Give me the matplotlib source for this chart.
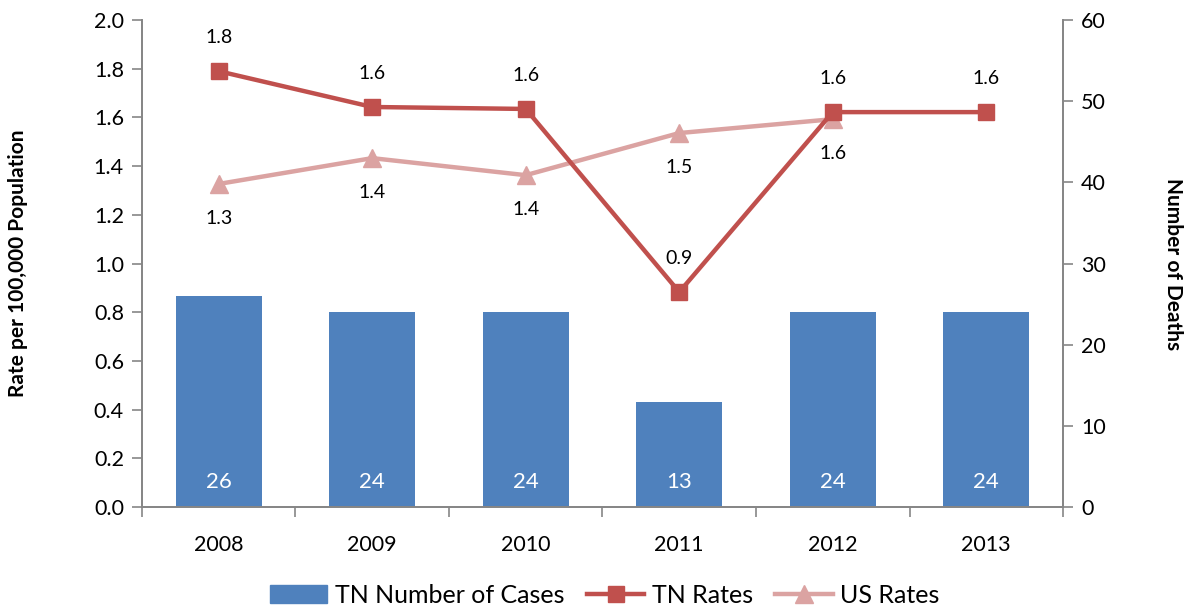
import matplotlib
matplotlib.use("Agg")
import matplotlib.pyplot as plt
import numpy as np

years = ["2008", "2009", "2010", "2011", "2012", "2013"]
tn_cases = [26, 24, 24, 13, 24, 24]
tn_rates = [1.79, 1.643, 1.635, 0.883, 1.622, 1.622]
us_rates = [1.327, 1.433, 1.363, 1.536, 1.593]

plt.rcParams['font.family'] = ['Lato', 'DejaVu Sans']

BAR_C = "#4F81BD"
TN_C = "#C0504D"
US_C = "#DBA3A2"
AX_C = "#868686"
FS = 15.5

fig = plt.figure(figsize=(11.86, 6.08), dpi=100)
ax = fig.add_axes([0.1197, 0.166, 0.7766, 0.801])
ax2 = ax.twinx()

x = np.arange(len(years))
ax2.bar(x, tn_cases, width=0.56, color=BAR_C, zorder=1, label="TN Number of Cases")
for xi, v in zip(x, tn_cases):
    ax2.text(xi, 1.9, str(v), ha="center", va="bottom", color="white", fontsize=16)
ax2.set_ylim(0, 60)
ax2.set_yticks(np.arange(0, 61, 10))

ax.set_zorder(ax2.get_zorder() + 1)
ax.patch.set_visible(False)
ln1, = ax.plot(x, tn_rates, color=TN_C, lw=3.2, marker="s", markersize=12, label="TN Rates", zorder=4)
ln2, = ax.plot(x[:len(us_rates)], us_rates, color=US_C, lw=3.2, marker="^", markersize=13, label="US Rates", zorder=3)
for xi, v in zip(x, tn_rates):
    ax.annotate(f"{v:.1f}", (xi, v), xytext=(0, 24), textcoords="offset points",
                ha="center", va="center", fontsize=14, color="black")
for xi, v in zip(x, us_rates):
    ax.annotate(f"{v:.1f}", (xi, v), xytext=(0, -25), textcoords="offset points",
                ha="center", va="center", fontsize=14, color="black")

ax.set_ylim(0, 2.0)
ax.set_yticks(np.arange(0, 2.01, 0.2))
ax.set_yticklabels([f"{t:.1f}" for t in np.arange(0, 2.01, 0.2)])
ax.set_xlim(-0.5, len(years) - 0.5)
ax.set_xticks(x)
ax.set_xticklabels(years)
ax.set_xticks(np.arange(-0.5, len(years)), minor=True)
ax.tick_params(axis="x", which="major", length=0, pad=20, labelsize=FS)
ax.tick_params(axis="x", which="minor", length=7, color=AX_C, width=1.2)
ax.tick_params(axis="y", length=7, color=AX_C, width=1.2, labelsize=FS, pad=6)
ax2.tick_params(axis="y", length=7, color=AX_C, width=1.2, labelsize=FS, pad=6)

for a in (ax, ax2):
    a.spines["top"].set_visible(False)
    for s in ("left", "right", "bottom"):
        a.spines[s].set_color(AX_C)
        a.spines[s].set_linewidth(1.3)

ax.set_ylabel("Rate per 100,000 Population", fontsize=15, fontweight="bold", va="center")
ax.yaxis.set_label_coords(-0.1346, 0.5)
ax2.set_ylabel("Number of Deaths", fontsize=15, fontweight="bold", rotation=-90, va="center")
ax2.yaxis.set_label_coords(1.1194, 0.5)

bar_handle = plt.Rectangle((0, 0), 1, 1, color=BAR_C)
fig.legend([bar_handle, ln1, ln2], ["TN Number of Cases", "TN Rates", "US Rates"],
           loc="lower center", bbox_to_anchor=(0.51, -0.035), ncol=3, frameon=False,
           fontsize=18, handlelength=2.3, columnspacing=0.9, handletextpad=0.3)

fig.savefig("out.png", dpi=100)
